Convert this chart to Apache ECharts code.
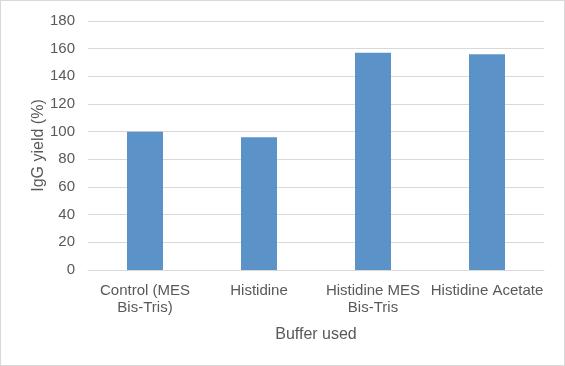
<!DOCTYPE html>
<html><head><meta charset="utf-8">
<script src="https://cdn.jsdelivr.net/npm/echarts@6/dist/echarts.min.js"></script>
<style>
html,body{margin:0;padding:0;background:#fff;}
#c{width:565px;height:366px;box-sizing:border-box;border:1px solid #d9d9d9;}
</style></head>
<body><div id="c"></div>
<script>
const categories = ["Control (MES\nBis-Tris)", "Histidine", "Histidine MES\nBis-Tris", "Histidine Acetate"];
const yieldValues = [100, 96, 157, 156];
const yTicks = [0, 20, 40, 60, 80, 100, 120, 140, 160, 180];

const chart = echarts.init(document.getElementById('c'), null, {renderer: 'canvas'});
const font = '"Liberation Sans", Arial, Helvetica, sans-serif';
chart.setOption({
  animation: false,
  grid: {left: 87, right: 20, top: 20, bottom: 95, containLabel: false},
  xAxis: {
    type: 'category',
    data: categories,
    name: 'Buffer used',
    nameLocation: 'middle',
    nameGap: 57,
    nameTextStyle: {color: '#595959', fontSize: 16, fontFamily: font},
    axisLine: {lineStyle: {color: '#d9d9d9'}},
    axisTick: {show: false},
    axisLabel: {color: '#595959', fontSize: 15, fontFamily: font, interval: 0, margin: 12, lineHeight: 17}
  },
  yAxis: {
    type: 'value',
    min: yTicks[0],
    max: yTicks[yTicks.length - 1],
    interval: 20,
    name: 'IgG yield (%)',
    nameLocation: 'middle',
    nameGap: 41,
    nameMoveOverlap: false,
    nameTextStyle: {color: '#595959', fontSize: 16, fontFamily: font},
    axisLine: {show: false},
    axisTick: {show: false},
    axisLabel: {color: '#595959', fontSize: 15, fontFamily: font, margin: 13},
    splitLine: {lineStyle: {color: '#d9d9d9', width: 1}}
  },
  series: [{
    type: 'bar',
    data: yieldValues,
    barWidth: 36,
    itemStyle: {color: '#5b93c8'}
  }]
});
</script></body></html>
